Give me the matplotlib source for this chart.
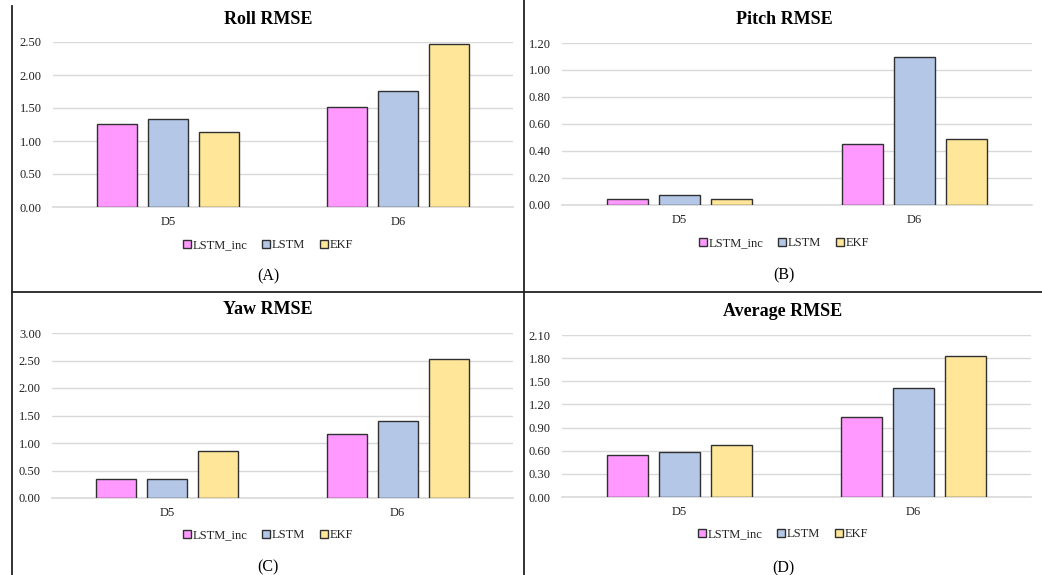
import matplotlib
matplotlib.use("Agg")
import matplotlib.pyplot as plt
import numpy as np
from matplotlib.lines import Line2D
from matplotlib.ticker import FormatStrFormatter, MultipleLocator

plt.rcParams['font.family'] = ['Liberation Serif', 'DejaVu Serif']

datasets = ["D5", "D6"]
methods = ["LSTM_inc", "LSTM", "EKF"]
colors = ["#FF99FF", "#B4C7E7", "#FFE699"]

roll_rmse = {"LSTM_inc": [1.255, 1.513], "LSTM": [1.330, 1.761], "EKF": [1.134, 2.465]}
pitch_rmse = {"LSTM_inc": [0.047, 0.451], "LSTM": [0.076, 1.097], "EKF": [0.047, 0.488]}
yaw_rmse = {"LSTM_inc": [0.340, 1.164], "LSTM": [0.340, 1.400], "EKF": [0.860, 2.527]}
avg_rmse = {"LSTM_inc": [0.545, 1.041], "LSTM": [0.579, 1.417], "EKF": [0.678, 1.828]}

W, H = 1042, 575
fig = plt.figure(figsize=(W / 100, H / 100), dpi=100)


def px_box(x0, x1, ytop, ybot):
    return [x0 / W, 1 - ybot / H, (x1 - x0) / W, (ybot - ytop) / H]


panels = [
    dict(title="Roll RMSE", data=roll_rmse, ymax=2.5, step=0.5, box=px_box(53, 513, 42, 207),
         cx=268, ty=20, ly=245, tag="(A)", tagy=276),
    dict(title="Pitch RMSE", data=pitch_rmse, ymax=1.2, step=0.2, box=px_box(562, 1032, 43, 205),
         cx=784, ty=20, ly=243, tag="(B)", tagy=275),
    dict(title="Yaw RMSE", data=yaw_rmse, ymax=3.0, step=0.5, box=px_box(52, 513, 333, 498),
         cx=268, ty=310, ly=535, tag="(C)", tagy=567),
    dict(title="Average RMSE", data=avg_rmse, ymax=2.1, step=0.3, box=px_box(562, 1031, 335, 497),
         cx=783, ty=312, ly=534, tag="(D)", tagy=568),
]

bar_w = 0.174
spacing = 0.222
x = np.arange(len(datasets))

for p in panels:
    ax = fig.add_axes(p["box"])
    for i, (m, c) in enumerate(zip(methods, colors)):
        ax.bar(x + (i - 1) * spacing, p["data"][m], width=bar_w, color=c,
               edgecolor="#303030", linewidth=1.0, label=m, zorder=3)
    ax.set_xlim(-0.5, 1.5)
    ax.set_ylim(0, p["ymax"])
    ax.yaxis.set_major_locator(MultipleLocator(p["step"]))
    ax.yaxis.set_major_formatter(FormatStrFormatter("%.2f"))
    ax.set_xticks(x)
    ax.set_xticklabels(datasets)
    ax.grid(axis="y", color="#D9D9D9", linewidth=1.0, zorder=0)
    ax.axhline(0, color="#D9D9D9", linewidth=1.2, zorder=1, clip_on=False)
    ax.set_axisbelow(True)
    for s in ax.spines.values():
        s.set_visible(False)
    ax.tick_params(axis="y", length=0, pad=8, labelsize=9, labelcolor="#222222")
    ax.tick_params(axis="x", length=0, pad=6.5, labelsize=9, labelcolor="#222222")

    fig.text(p["cx"] / W, 1 - p["ty"] / H, p["title"], ha="center", va="center",
             fontsize=13, fontweight="bold")
    ax.legend(loc="center", bbox_to_anchor=(p["cx"] / W, 1 - p["ly"] / H),
              bbox_transform=fig.transFigure, ncol=3, frameon=False, fontsize=9,
              handlelength=0.6, handleheight=0.6, handletextpad=0.15,
              columnspacing=1.2, borderaxespad=0, labelcolor="#222222")
    fig.text(p["cx"] / W, 1 - p["tagy"] / H, p["tag"], ha="center", va="center",
             fontsize=11.5)

# Table-style frame lines separating the four panels
frame_kw = dict(color="#222222", linewidth=1.3, transform=fig.transFigure)
fig.add_artist(Line2D([12 / W, 12 / W], [0, 1 - 6 / H], **frame_kw))
fig.add_artist(Line2D([524 / W, 524 / W], [0, 1], **frame_kw))
fig.add_artist(Line2D([12 / W, 1], [1 - 292 / H, 1 - 292 / H], **frame_kw))

fig.savefig("out.png", dpi=100)
